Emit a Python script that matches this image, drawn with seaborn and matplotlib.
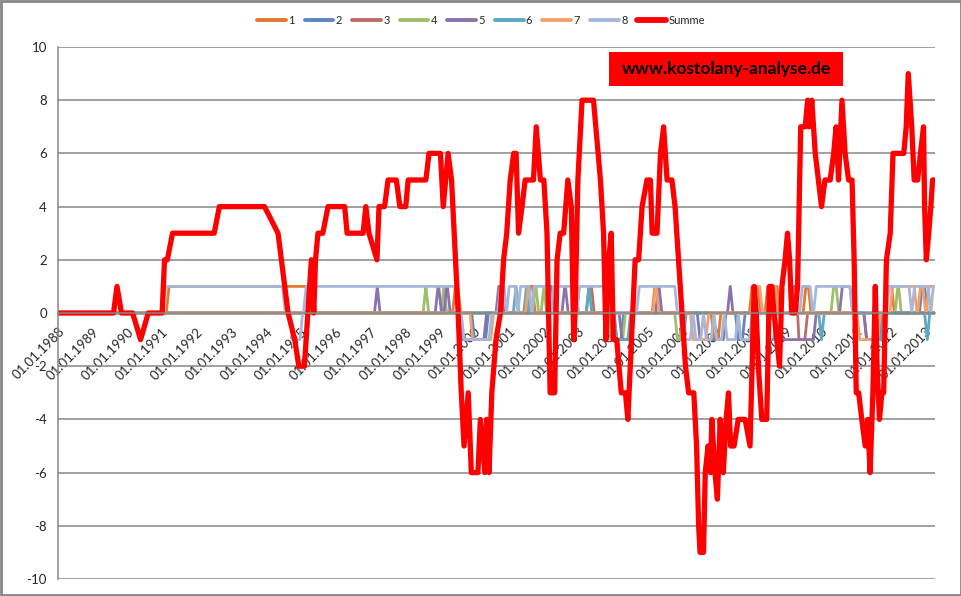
import numpy as np
import pandas as pd
import matplotlib
matplotlib.use('Agg')
import matplotlib.pyplot as plt
from matplotlib.lines import Line2D
from matplotlib.patches import Rectangle
import seaborn as sns

# Summe: (decimal year, value) vertices
summe = [(1988.0,0),(1989.6,0),(1989.7,1),(1989.83,0),(1990.15,0),(1990.38,-1),(1990.6,0),
         (1991.0,0),(1991.07,2),(1991.15,2),(1991.3,3),(1992.5,3),(1992.65,4),(1993.95,4),
         (1994.34,3),(1994.63,0),(1994.82,-1),(1994.94,-2),(1995.1,-2),(1995.3,2),(1995.37,0),
         (1995.42,2),(1995.49,3),(1995.63,3),(1995.78,4),(1996.26,4),(1996.33,3),(1996.79,3),
         (1996.87,4),(1996.96,3),(1997.19,2),(1997.25,4),(1997.41,4),(1997.51,5),(1997.75,5),
         (1997.85,4),(1998.02,4),(1998.09,5),(1998.6,5),(1998.69,6),(1999.02,6),(1999.1,4),
         (1999.24,6),(1999.34,5),(1999.53,0),(1999.62,-3),(1999.7,-5),(1999.82,-3),(1999.91,-6),
         (2000.1,-6),(2000.17,-4),(2000.3,-6),(2000.35,-4),(2000.42,-6),(2000.5,-3),(2000.62,-1),
         (2000.75,0),(2000.84,2),(2000.93,3),(2001.03,5),(2001.13,6),(2001.2,6),(2001.27,3),
         (2001.37,4),(2001.46,5),(2001.7,5),(2001.78,7),(2001.9,5),(2002.0,5),(2002.09,3),
         (2002.18,-3),(2002.31,-3),(2002.38,2),(2002.47,3),(2002.57,3),(2002.69,5),(2002.79,4),
         (2002.86,-1),(2002.9,0),(2002.98,5),(2003.1,8),(2003.43,8),(2003.63,5),(2003.72,3),
         (2003.79,-1),(2003.87,2),(2003.94,3),(2004.0,-1),(2004.1,-1),(2004.23,-3),(2004.35,-3),
         (2004.42,-4),(2004.63,2),(2004.73,2),(2004.83,4),(2004.97,5),(2005.07,5),(2005.12,3),
         (2005.26,3),(2005.36,6),(2005.45,7),(2005.55,5),(2005.69,5),(2005.78,4),(2005.98,0),
         (2006.08,-2),(2006.17,-3),(2006.32,-3),(2006.4,-5),(2006.46,-8),(2006.5,-9),(2006.6,-9),
         (2006.65,-6),(2006.73,-5),(2006.8,-6),(2006.84,-4),(2006.93,-6),(2007.0,-7),(2007.08,-4),
         (2007.17,-6),(2007.25,-4),(2007.32,-3),(2007.38,-5),(2007.48,-5),(2007.6,-4),(2007.8,-4),
         (2007.94,-5),(2008.0,-2),(2008.06,1),(2008.12,0),(2008.18,-2),(2008.28,-4),(2008.42,-4),
         (2008.5,1),(2008.57,1),(2008.63,0),(2008.71,-1),(2008.79,-2),(2008.86,1),(2008.95,2),
         (2009.02,3),(2009.08,2),(2009.14,0),(2009.24,0),(2009.31,1),(2009.37,5),(2009.4,7),
         (2009.53,7),(2009.6,8),(2009.65,7),(2009.72,8),(2009.82,6),(2009.91,5),(2010.0,4),
         (2010.1,5),(2010.25,5),(2010.35,6),(2010.42,7),(2010.49,5),(2010.59,8),(2010.68,6),
         (2010.78,5),(2010.88,5),(2010.94,2),(2011.0,-3),(2011.07,-3),(2011.16,-4),(2011.26,-5),
         (2011.33,-4),(2011.4,-6),(2011.48,-3),(2011.55,1),(2011.6,-2),(2011.67,-4),(2011.74,-3),
         (2011.79,-3),(2011.87,2),(2011.98,3),(2012.06,6),(2012.37,6),(2012.44,7),(2012.5,9),
         (2012.6,7),(2012.67,5),(2012.77,5),(2012.85,6),(2012.94,7),(2012.97,4),(2013.02,2),
         (2013.09,3),(2013.15,4),(2013.2,5),(2013.25,5)]

# indicators 1-8 as runs: (start year, value held until the next run)
s1 = [(1988.0,0),(1991.2,1),(1995.25,0),(1999.45,1),(1999.6,0),(2001.6,1),(2001.75,0),(2005.2,1),
      (2005.35,0),(2006.9,-1),(2007.1,0),(2008.0,1),(2008.25,0),(2008.45,1),(2008.8,0),
      (2009.55,1),(2009.7,0),(2011.9,1),(2012.1,0)]
s2 = [(1988.0,0),(2000.0,-1),(2000.4,0),(2004.1,-1),(2004.3,0),(2007.6,-1),(2007.8,0),
      (2012.9,1),(2013.05,0)]
s3 = [(1988.0,0),(2003.3,1),(2003.45,0),(2009.2,1),(2009.35,-1),(2009.6,0),(2011.3,-1),(2011.6,0)]
s4 = [(1988.0,0),(1998.6,1),(1998.68,0),(1999.12,1),(1999.2,0),(2001.75,1),(2001.85,0),(2002.0,1),
      (2002.08,0),(2003.95,-1),(2004.35,0),(2005.85,-1),(2006.0,0),(2010.35,1),(2010.5,0),
      (2012.2,1),(2012.3,0)]
s5 = [(1988.0,0),(1997.2,1),(1997.28,0),(1998.95,1),(1999.05,0),(1999.2,1),(1999.3,0),(1999.65,-1),
      (2000.35,0),(2000.7,1),(2000.85,0),(2002.15,1),(2002.3,0),(2002.6,1),(2002.7,0),(2004.25,-1),
      (2004.6,0),(2005.3,1),(2005.4,0),(2006.5,-1),(2007.25,0),(2007.37,1),(2007.45,0),(2008.75,-1),
      (2009.85,0),(2010.6,1),(2010.9,0),(2011.3,-1),(2011.75,0)]
s6 = [(1988.0,0),(2001.2,1),(2001.28,0),(2001.5,1),(2001.58,0),(2002.9,1),(2003.0,0),(2003.3,1),
      (2003.38,0),(2004.1,-1),(2004.5,0),(2006.0,-1),(2006.1,0),(2008.5,-1),(2008.7,0),(2010.0,-1),
      (2010.08,0),(2011.65,-1),(2011.8,0),(2013.05,-1),(2013.12,0)]
s7 = [(1988.0,0),(1999.95,-1),(2000.55,0),(2001.55,1),(2001.65,0),(2005.22,1),(2005.32,0),
      (2006.3,-1),(2006.75,0),(2008.05,1),(2008.3,0),(2008.5,1),(2008.75,0),(2011.1,-1),(2011.7,0),
      (2012.05,1),(2012.75,0),(2012.85,1),(2013.0,0),(2013.1,1)]
s8 = [(1988.0,0),(1991.1,1),(1994.55,0),(1994.75,-1),(1995.05,0),(1995.15,1),(1999.55,0),
      (1999.7,-1),(2000.5,0),(2000.75,1),(2000.93,0),(2001.0,1),(2001.25,0),(2001.33,1),(2001.65,0),
      (2001.72,1),(2002.2,0),(2002.28,1),(2002.95,0),(2003.03,1),(2003.8,0),(2004.75,1),(2005.85,0),
      (2006.0,-1),(2006.3,0),(2006.38,-1),(2006.6,0),(2006.68,-1),(2006.9,0),(2006.98,-1),(2007.2,0),
      (2007.28,-1),(2007.6,0),(2007.68,-1),(2008.0,0),(2009.45,1),(2009.75,0),(2009.85,1),(2010.9,0),
      (2011.95,1),(2012.6,0),(2012.68,1),(2013.15,0),(2013.22,1)]

names = ['1','2','3','4','5','6','7','8']
colors = ['#E3782F','#5F86BF','#BE6C68','#9FBE6B','#8A73AD','#5EA9C2','#F3A16C','#A7B7D7']
years = list(range(1988, 2014))
end_year = 2013.25

def runs_to_points(runs, end):
	pts = []
	for i, (start, v) in enumerate(runs):
		stop = runs[i+1][0] - 0.08 if i + 1 < len(runs) else end
		pts.append((start, v))
		pts.append((max(stop, start), v))
	return pts

rows = []
for nm, runs in zip(names, [s1, s2, s3, s4, s5, s6, s7, s8]):
	for x, v in runs_to_points(runs, end_year):
		rows.append((x, v, nm))
df = pd.DataFrame(rows, columns=['year', 'value', 'series'])
dsum = pd.DataFrame(summe, columns=['year', 'value'])

sns.set_style('white')
plt.rcParams['font.family'] = ['Lato', 'DejaVu Sans']
plt.rcParams['axes.unicode_minus'] = False

fig = plt.figure(figsize=(9.62, 5.96), dpi=100)
ax = fig.add_axes([58/962, 1-579/596, (935-58)/962, (579-47)/596])

sns.lineplot(data=df, x='year', y='value', hue='series', palette=dict(zip(names, colors)),
             estimator=None, sort=False, linewidth=2.0, legend=False, ax=ax)
sns.lineplot(data=dsum, x='year', y='value', color='#FF0000', estimator=None, sort=False,
             linewidth=3.8, ax=ax, solid_joinstyle='round')

grey = '#868686'
ax.set_xlim(1988.0, 2013.27)
ax.set_ylim(-10, 10)
ax.set_yticks(range(-10, 11, 2))
ax.yaxis.grid(True, color=grey, linewidth=1.1)
ax.set_axisbelow(True)
ax.set_xlabel('')
ax.set_ylabel('')
ax.spines['bottom'].set_position(('data', 0))
for s in ['top', 'right']:
	ax.spines[s].set_visible(False)
for s in ['left', 'bottom']:
	ax.spines[s].set_color(grey)
	ax.spines[s].set_linewidth(1.1)
ax.tick_params(axis='x', direction='out', length=4, color=grey, width=1.1, pad=5, labelsize=9.5,
               labelrotation=45)
ax.tick_params(axis='y', direction='out', length=4, color=grey, width=1.1, pad=4, labelsize=9.5)
ax.set_xticks(years)
ax.set_xticklabels(['01.01.%d' % y for y in years])
for lab in ax.get_xticklabels():
	lab.set_rotation(45)
	lab.set_ha('right')
	lab.set_va('top')
	lab.set_rotation_mode('anchor')

handles = [Line2D([0], [0], color=c, lw=2.8) for c in colors]
handles.append(Line2D([0], [0], color='#FF0000', lw=4.2))
fig.legend(handles, names + ['Summe'], loc='center', bbox_to_anchor=(0.5, 1-20/596), ncol=9,
           frameon=False, fontsize=8, handlelength=2.6, handletextpad=0.2, columnspacing=0.9)

# watermark box
fig.patches.append(Rectangle((609/962, 1-86/596), 234/962, 34/596, transform=fig.transFigure,
                             facecolor='#FF0000', edgecolor='none'))
fig.text(726/962, 1-69/596, 'www.kostolany-analyse.de', ha='center', va='center',
         fontsize=12.5, fontweight='bold', color='black')
# chart frame
fig.patches.append(Rectangle((0.001, 0.002), 0.998, 0.996, transform=fig.transFigure,
                             fill=False, edgecolor=grey, linewidth=2))

fig.savefig('out.png', dpi=100)
